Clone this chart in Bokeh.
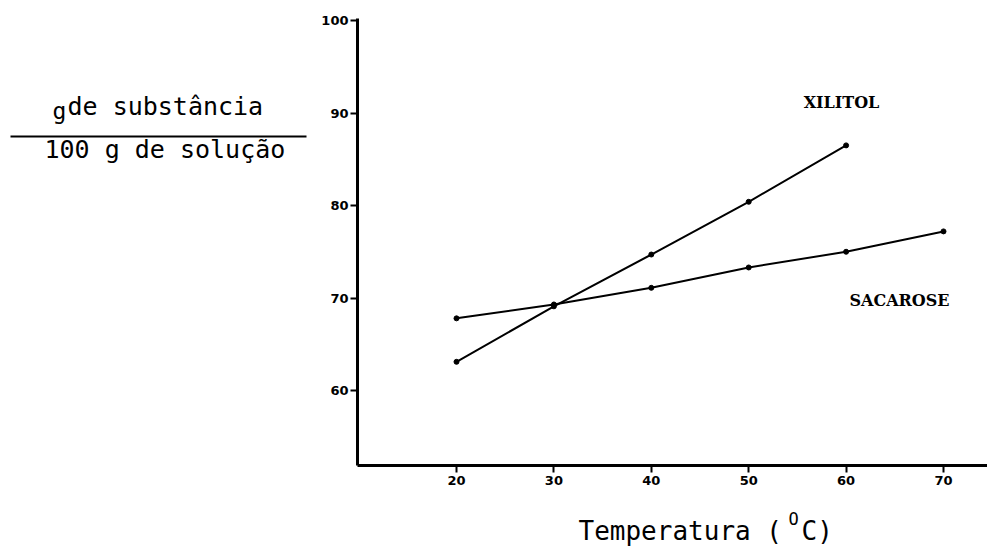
from bokeh.plotting import figure
from bokeh.layouts import row, column
from bokeh.models import Label, FixedTicker, Range1d
from bokeh.core.properties import value
from bokeh.embed import file_html
from bokeh.resources import INLINE

# ---- data ----
temperature_xilitol = [20, 30, 40, 50, 60]
xilitol = [63.1, 69.1, 74.7, 80.4, 86.5]
temperature_sacarose = [20, 30, 40, 50, 60, 70]
sacarose = [67.8, 69.3, 71.1, 73.3, 75.0, 77.2]
x_ticks = [20, 30, 40, 50, 60, 70]
y_ticks = [60, 70, 80, 90, 100]

W, H = 987, 546
LEFT_W = 312          # width of the left text panel
TOP_H = 500           # height of the chart row
FL, FT, FB = 357, 18, 465  # frame left / top / bottom in page pixels
MONO = "DejaVu Sans Mono"


def px2x(px):
    return 20 + (px - 456) / 9.74


def py2y(py):
    return 60 + (390 - py) / 9.25


def blank(width, height, x0, x1, y0, y1):
    f = figure(width=width, height=height, output_backend="svg", toolbar_location=None,
               x_range=Range1d(x0, x1), y_range=Range1d(y0, y1),
               x_axis_type=None, y_axis_type=None,
               min_border=0, min_border_left=0, min_border_right=0,
               min_border_top=0, min_border_bottom=0)
    f.outline_line_color = None
    f.xgrid.visible = False
    f.ygrid.visible = False
    f.background_fill_color = "white"
    f.border_fill_color = "white"
    return f


# ---- main chart ----
p = figure(width=W - LEFT_W, height=TOP_H, output_backend="svg", toolbar_location=None,
           x_range=Range1d(px2x(FL), px2x(W)), y_range=Range1d(py2y(FB), py2y(FT)),
           min_border_left=FL - LEFT_W, min_border_right=0, min_border_top=FT,
           min_border_bottom=TOP_H - FB)
p.outline_line_color = None
p.xgrid.visible = False
p.ygrid.visible = False
p.background_fill_color = "white"
p.border_fill_color = "white"

for ax in (p.xaxis[0], p.yaxis[0]):
    ax.axis_line_color = "black"
    ax.axis_line_width = 3
    ax.major_tick_line_color = "black"
    ax.major_tick_line_width = 2
    ax.minor_tick_line_color = None
    ax.major_tick_in = 0
    ax.major_tick_out = 7
    ax.major_label_text_font = "DejaVu Sans"
    ax.major_label_text_font_style = "bold"
    ax.major_label_text_font_size = "13px"
    ax.major_label_text_color = "black"
p.xaxis.ticker = FixedTicker(ticks=x_ticks)
p.yaxis.ticker = FixedTicker(ticks=y_ticks)
p.xaxis.major_label_standoff = 3
p.yaxis.major_label_standoff = 2

p.line(temperature_xilitol, xilitol, line_color="black", line_width=2)
p.scatter(temperature_xilitol, xilitol, size=5, color="black")
p.line(temperature_sacarose, sacarose, line_color="black", line_width=2)
p.scatter(temperature_sacarose, sacarose, size=5, color="black")

p.add_layout(Label(x=px2x(841), y=py2y(102), text="XILITOL", text_align="center",
                   text_baseline="middle", text_font="DejaVu Serif",
                   text_font_style="bold", text_font_size="16px", text_color="black"))
p.add_layout(Label(x=px2x(899), y=py2y(300), text="SACAROSE", text_align="center",
                   text_baseline="middle", text_font="DejaVu Serif",
                   text_font_style="bold", text_font_size="16px", text_color="black"))

# ---- left panel: the y quantity written as a fraction (y measured from the top) ----
left = blank(LEFT_W, TOP_H, 0, LEFT_W, TOP_H, 0)
left.text(x=[52], y=[103], text=["g"], text_font=value(MONO), text_font_size="23px",
          text_baseline="middle", text_color="black")
left.text(x=[67], y=[98], text=["de substância"], text_font=value(MONO),
          text_font_size="25px", text_baseline="middle", text_color="black")
left.segment(x0=[10], y0=[132], x1=[306], y1=[132], line_color="black", line_width=2)
left.text(x=[44], y=[147], text=["100 g de solução"], text_font=value(MONO),
          text_font_size="25px", text_baseline="middle", text_color="black")

# ---- bottom panel: x-axis title with raised degree mark ----
bottom = blank(W, H - TOP_H, 0, W, H, TOP_H)
bottom.text(x=[578], y=[530], text=["Temperatura ("], text_font=value(MONO),
            text_font_size="26px", text_baseline="middle", text_color="black")
bottom.text(x=[788], y=[518], text=["O"], text_font=value(MONO),
            text_font_size="17px", text_baseline="middle", text_color="black")
bottom.text(x=[801], y=[530], text=["C)"], text_font=value(MONO),
            text_font_size="26px", text_baseline="middle", text_color="black")

layout = column(row(left, p, spacing=0), bottom, spacing=0)
open("out.html", "w").write(file_html(layout, INLINE))
